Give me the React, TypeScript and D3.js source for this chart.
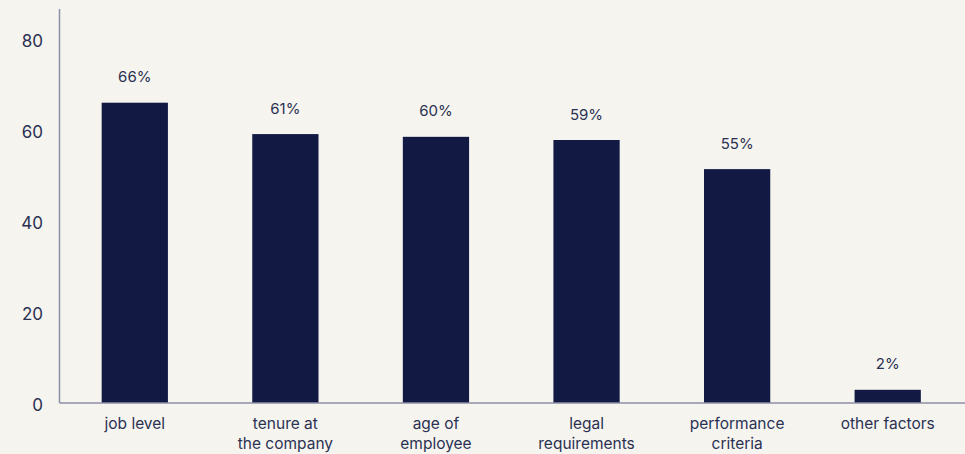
import React from "react";
import * as d3 from "d3";

const categories: string[][] = [
  ["job level"],
  ["tenure at", "the company"],
  ["age of", "employee"],
  ["legal", "requirements"],
  ["performance", "criteria"],
  ["other factors"],
];
const barValues: number[] = [66, 59.1, 58.5, 57.8, 51.4, 2.9];
const valueLabels: string[] = ["66%", "61%", "60%", "59%", "55%", "2%"];
const yTicks: number[] = [0, 20, 40, 60, 80];

const W = 965;
const H = 454;
const BG = "#f5f4ef";
const BAR = "#121a43";
const TEXT = "#2b3152";
const AXIS = "#8c90a6";
const FONT = "Inter, 'Noto Sans', sans-serif";

export default function App() {
  const x0 = 59.5;
  const x1 = 963;
  const y0 = 403;
  const yTop = 39;
  const ids = categories.map((_, i) => String(i));
  const x = d3.scaleBand<string>().domain(ids).range([x0, x1]).paddingInner(0.56).paddingOuter(0.28);
  const y = d3.scaleLinear().domain([0, 80]).range([y0, yTop]);

  return (
    <svg width={W} height={H} style={{ position: "fixed", left: 0, top: 0, background: BG }}>
      <rect x={0} y={0} width={W} height={H} fill={BG} />
      {barValues.map((v, i) => (
        <rect key={i} x={x(String(i))} y={y(v)} width={x.bandwidth()} height={y0 - y(v)} fill={BAR} />
      ))}
      {barValues.map((v, i) => (
        <text
          key={"l" + i}
          x={(x(String(i)) as number) + x.bandwidth() / 2}
          y={y(v) - 26}
          textAnchor="middle"
          dominantBaseline="central"
          fontFamily={FONT}
          fontSize={15}
          fill={TEXT}
        >
          {valueLabels[i]}
        </text>
      ))}
      <line x1={x0} x2={x0} y1={9} y2={y0} stroke={AXIS} strokeWidth={1.5} />
      <line x1={x0} x2={W} y1={y0} y2={y0} stroke={AXIS} strokeWidth={1.5} />
      {yTicks.map((t) => (
        <text
          key={"t" + t}
          x={43}
          y={y(t) + 2}
          textAnchor="end"
          dominantBaseline="central"
          fontFamily={FONT}
          fontSize={17}
          fill={TEXT}
        >
          {t}
        </text>
      ))}
      {categories.map((lines, i) =>
        lines.map((ln, j) => (
          <text
            key={"c" + i + "_" + j}
            x={(x(String(i)) as number) + x.bandwidth() / 2}
            y={423 + j * 20}
            textAnchor="middle"
            dominantBaseline="central"
            fontFamily={FONT}
            fontSize={15.5}
            fill={TEXT}
          >
            {ln}
          </text>
        ))
      )}
    </svg>
  );
}
